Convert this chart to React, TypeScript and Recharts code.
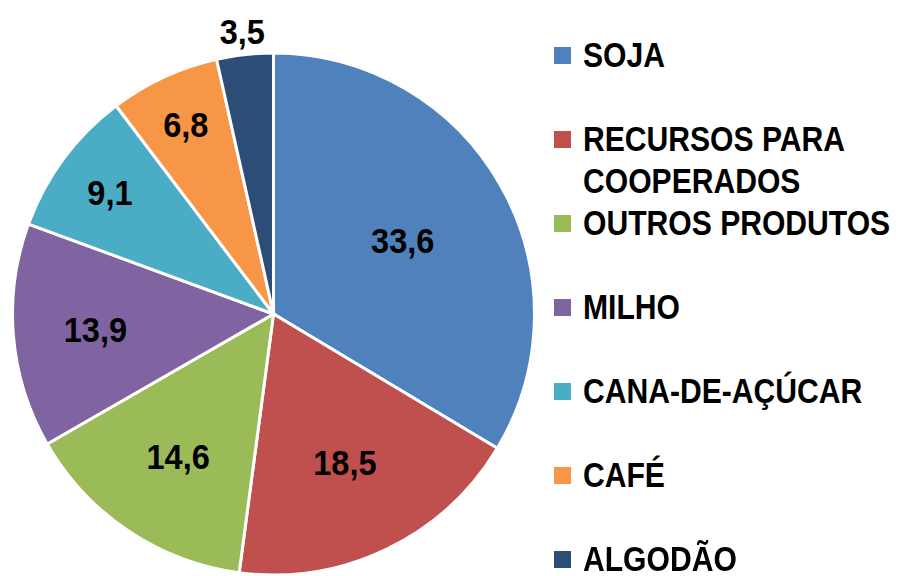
import React from 'react';
import { PieChart, Pie, Cell, Legend } from 'recharts';

const categories = ['SOJA', 'RECURSOS PARA COOPERADOS', 'OUTROS PRODUTOS', 'MILHO', 'CANA-DE-AÇÚCAR', 'CAFÉ', 'ALGODÃO'];
const legendLines = [['SOJA'], ['RECURSOS PARA', 'COOPERADOS'], ['OUTROS PRODUTOS'], ['MILHO'], ['CANA-DE-AÇÚCAR'], ['CAFÉ'], ['ALGODÃO']];
const values = [33.6, 18.5, 14.6, 13.9, 9.1, 6.8, 3.5];
const colors = ['#4F81BD', '#C0504D', '#9BBB59', '#8064A2', '#4BACC6', '#F79646', '#2C4D75'];
const labelRadius = [0.569, 0.63, 0.656, 0.685, 0.78, 0.8, 1.09];

const data = categories.map((name, i) => ({ name, value: values[i] }));

const FONT = '"Liberation Sans", Arial, sans-serif';
const RAD = Math.PI / 180;
const LABEL_SX = 0.93;
const LEGEND_SX = 0.86;

const renderLabel = (props: any) => {
  const { cx, cy, midAngle, outerRadius, index, value } = props;
  const r = outerRadius * labelRadius[index];
  const x = cx + r * Math.cos(-midAngle * RAD);
  const y = cy + r * Math.sin(-midAngle * RAD);
  return (
    <text
      x={0}
      y={12.5}
      transform={`translate(${x},${y}) scale(${LABEL_SX},1)`}
      textAnchor="middle"
      fill="#000"
      style={{ fontFamily: FONT, fontWeight: 700, fontSize: 35 }}
    >
      {Number(value).toFixed(1).replace('.', ',')}
    </text>
  );
};

const renderLegend = () => (
  <div style={{ position: 'relative', width: 349, height: 576 }}>
    {legendLines.map((lines, i) => (
      <div key={i} style={{ position: 'absolute', left: 0, top: 55 + 84 * i - 15 }}>
        <div
          style={{
            position: 'absolute',
            left: 0,
            top: 7,
            width: 17,
            height: 17,
            background: colors[i],
          }}
        />
        {lines.map((t, j) => (
          <div
            key={j}
            style={{
              position: 'absolute',
              left: 29,
              top: 42 * j,
              height: 30,
              lineHeight: '30px',
              whiteSpace: 'nowrap',
              fontFamily: FONT,
              fontWeight: 700,
              fontSize: 35,
              color: '#000',
              transform: `scaleX(${LEGEND_SX})`,
              transformOrigin: 'left center',
            }}
          >
            {t}
          </div>
        ))}
      </div>
    ))}
  </div>
);

export default function App() {
  return (
    <div style={{ position: 'fixed', left: 0, top: 0, width: 903, height: 576, background: '#fff' }}>
      <PieChart width={903} height={576} margin={{ top: 0, right: 0, bottom: 0, left: 0 }}>
        <Pie
          data={data}
          dataKey="value"
          nameKey="name"
          cx={273.5}
          cy={314}
          outerRadius={261}
          startAngle={90}
          endAngle={-270}
          stroke="#fff"
          strokeWidth={3}
          label={renderLabel}
          labelLine={false}
          isAnimationActive={false}
        >
          {data.map((d, i) => (
            <Cell key={d.name} fill={colors[i]} />
          ))}
        </Pie>
        <Legend
          content={renderLegend}
          wrapperStyle={{ position: 'absolute', left: 554, top: 0, width: 349, height: 576 }}
        />
      </PieChart>
    </div>
  );
}
